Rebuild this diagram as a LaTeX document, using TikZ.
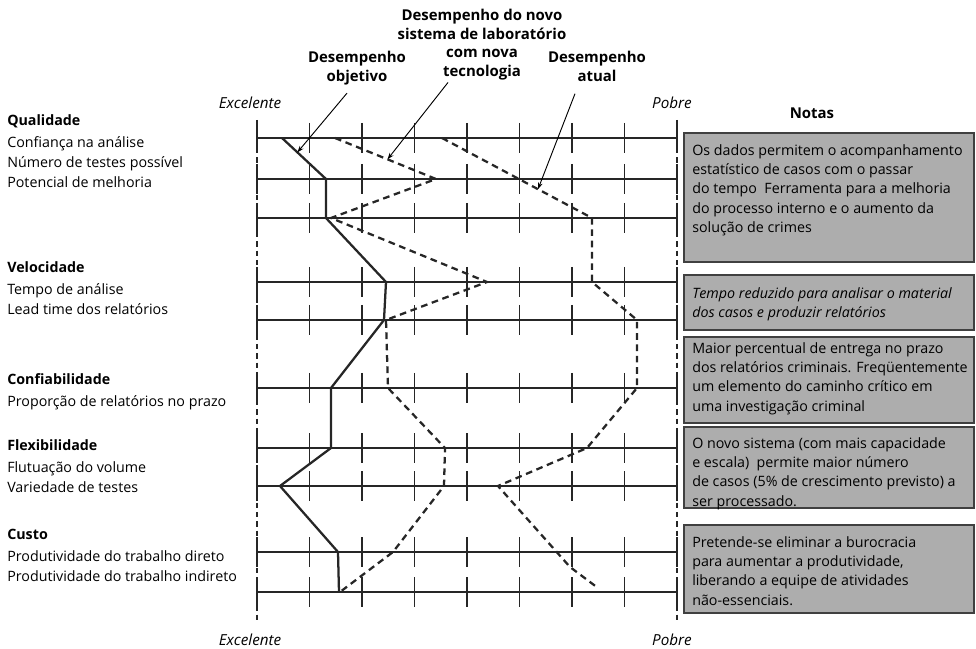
\documentclass[tikz,border=0pt]{standalone}
\usepackage{fontspec}
\setmainfont{Open Sans}
\usepackage{tikz}
\usetikzlibrary{arrows.meta, positioning}

\tikzset{
  grade/.style={line width=0.8pt, black!85},
  eixo/.style={line width=0.8pt, black!85, dash pattern=on 4pt off 3pt},
  meta/.style={line width=1.7pt, black!85},
  novo/.style={line width=1.7pt, black!85, dash pattern=on 5pt off 3.5pt},
  atual/.style={novo},
  seta/.style={line width=0.7pt, -{Stealth[length=5pt,width=3.5pt]}},
  nota/.style={draw=black!75, line width=1.2pt, fill=black!32},
  notatxt/.style={anchor=north west, inner sep=0pt, align=left, font=\fontsize{10.7}{14.5}\selectfont},
  rotulo/.style={anchor=north west, inner sep=0pt, align=left, font=\fontsize{10.7}{15}\selectfont},
  cab/.style={anchor=north, inner sep=0pt, align=center, font=\bfseries\fontsize{11.2}{14}\selectfont},
  escala/.style={inner sep=0pt, font=\itshape\fontsize{11.4}{12}\selectfont},
}

\begin{document}
\begin{tikzpicture}[x=0.75pt, y=-0.75pt]
    \useasboundingbox (0,0) rectangle (976,649);

    \foreach \y in {138,179,218,282,320,388,448,486,552,592}{
        \draw[grade] (257,\y) -- (677,\y);
        \foreach \i in {0,...,8}
            \draw[grade] ({257+52.5*\i},{\y-15}) -- ({257+52.5*\i},{\y+15});
    }
    \draw[eixo] (257,120) -- (257,623);
    \draw[eixo] (677,120) -- (677,623);

    \node[escala] (exc1) at (250,103) {Excelente};
    \node[escala] (pob1) at (672,103) {Pobre};
    \node[escala] (exc2) at (250,640) {Excelente};
    \node[escala] (pob2) at (672,640) {Pobre};

    \draw[meta] (282,138) -- coordinate[pos=0.35] (pMeta) (326,179) -- (326,218) -- (386,282) -- (384,320)
        -- (331,388) -- (331,448) -- (280,486) -- (338,552) -- (339,592);
    \draw[novo] (335,138) -- coordinate[pos=0.52] (pNovo) (436,179) -- (331,218) -- (487,282) -- (386,320)
        -- (388,388) -- (445,448) -- (444,486) -- (393,552) -- (340,592);
    \draw[atual] (442,138) -- coordinate[pos=0.64] (pAtual) (592,218) -- (592,282) -- (637,320) -- (637,388)
        -- (587,448) -- (498,486) -- (570,567) -- (598,588);

    \node[cab] (obj) at (357,51) {Desempenho\\objetivo};
    \node[cab] (nov) at (482,9) {Desempenho do novo\\sistema de laboratório\\com nova\\tecnologia};
    \node[cab] (atu) at (597,51) {Desempenho\\atual};
    \draw[seta] (obj.south) ++(-10,8) -- (pMeta);
    \draw[seta] (nov.south) ++(-34,2) -- (pNovo);
    \draw[seta] (atu.south) ++(-22,12) -- (pAtual);

    \node[rotulo] (qual) at (7,114) {\textbf{Qualidade}\\[1.5pt]Confiança na análise\\Número de testes possível\\Potencial de melhoria};
    \node[rotulo] (velo) at (7,261) {\textbf{Velocidade}\\[1.5pt]Tempo de análise\\Lead time dos relatórios};
    \node[rotulo] (conf) at (7,373) {\textbf{Confiabilidade}\\[1.5pt]Proporção de relatórios no prazo};
    \node[rotulo] (flex) at (7,439) {\textbf{Flexibilidade}\\[1.5pt]Flutuação do volume\\Variedade de testes};
    \node[rotulo] (cust) at (7,529) {\textbf{Custo}\\[1.5pt]Produtividade do trabalho direto\\Produtividade do trabalho indireto};

    \node[font=\bfseries\fontsize{11.2}{12}\selectfont, inner sep=0pt] (notas) at (812,113) {Notas};
    \draw[nota] (684,133) rectangle (974,262);
    \draw[nota] (684,275) rectangle (974,330);
    \draw[nota] (684,337) rectangle (974,423);
    \draw[nota] (684,427) rectangle (974,508);
    \draw[nota] (684,525) rectangle (974,613);
    \node[notatxt] (n1) at (692,144) {Os dados permitem o acompanhamento\\estatístico de casos com o passar\\do tempo\ \ Ferramenta para a melhoria\\do processo interno e o aumento da\\solução de crimes};
    \node[notatxt] (n2) at (692,287) {\itshape Tempo reduzido para analisar o material\\\itshape dos casos e produzir relatórios};
    \node[notatxt] (n3) at (692,342) {Maior percentual de entrega no prazo\\dos relatórios criminais. Freqüentemente\\um elemento do caminho crítico em\\uma investigação criminal};
    \node[notatxt] (n4) at (692,437) {O novo sistema (com mais capacidade\\e escala)\ \ permite maior número\\de casos (5\% de crescimento previsto) a\\ser processado.};
    \node[notatxt] (n5) at (692,536) {Pretende-se eliminar a burocracia\\para aumentar a produtividade,\\liberando a equipe de atividades\\não-essenciais.};
\end{tikzpicture}
\end{document}
